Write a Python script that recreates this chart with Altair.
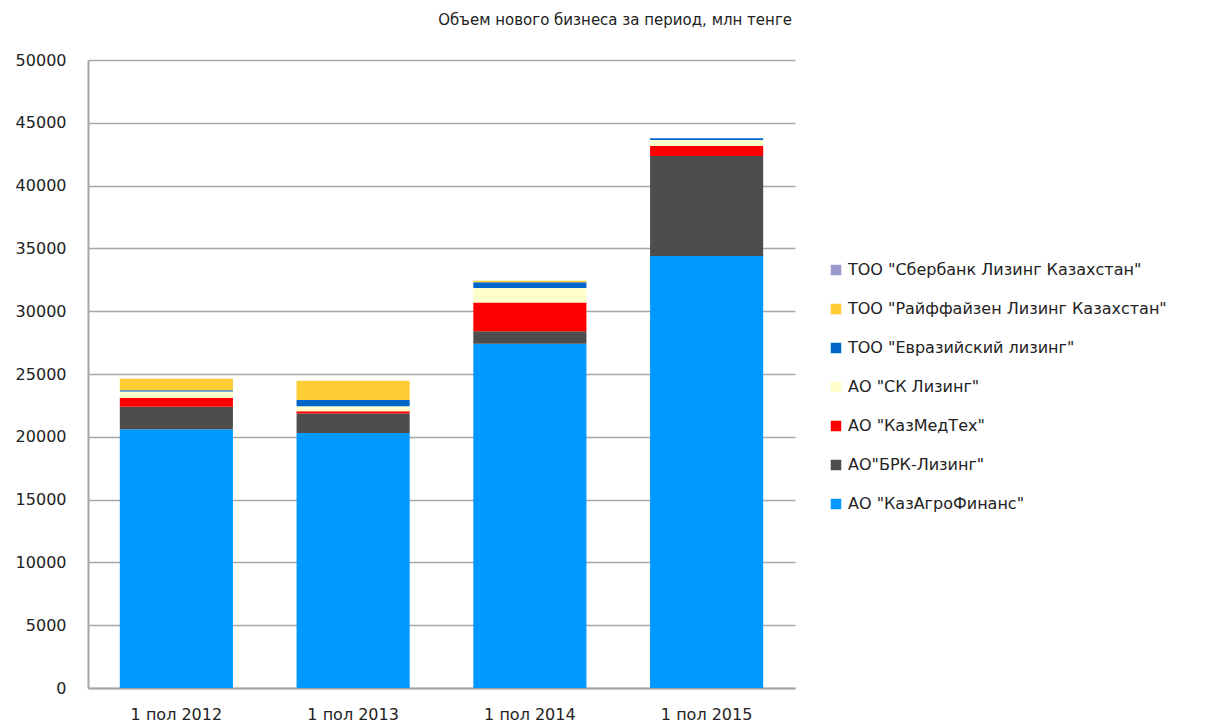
import altair as alt
import pandas as pd

periods = ["1 пол 2012", "1 пол 2013", "1 пол 2014", "1 пол 2015"]

# stack order bottom -> top
series = [
    "АО \"КазАгроФинанс\"",
    "АО\"БРК-Лизинг\"",
    "АО \"КазМедТех\"",
    "АО \"СК Лизинг\"",
    "ТОО \"Евразийский лизинг\"",
    "ТОО \"Райффайзен Лизинг Казахстан\"",
    "ТОО \"Сбербанк Лизинг Казахстан\"",
]
colors = ["#0099FF", "#4D4D4D", "#FF0000", "#FFFFCC", "#0066CC", "#FFCC33", "#9999CC"]

kazagro = [20600, 20300, 27400, 34400]
brk = [1800, 1550, 1000, 7950]
kazmedtech = [700, 190, 2300, 800]
sk = [500, 400, 1150, 480]
eurasian = [100, 480, 450, 130]
raiffeisen = [930, 1540, 130, 0]
sberbank = [0, 0, 0, 0]

values = [kazagro, brk, kazmedtech, sk, eurasian, raiffeisen, sberbank]

rows = []
for i, (name, vals) in enumerate(zip(series, values)):
    for p, v in zip(periods, vals):
        rows.append({"period": p, "company": name, "value": v, "ord": i})
df = pd.DataFrame(rows)

legend_order = list(reversed(series))
legend_colors = list(reversed(colors))

font = "DejaVu Sans"

chart = alt.Chart(df).mark_bar().encode(
    x=alt.X("period:N", sort=periods, title=None,
            scale=alt.Scale(paddingInner=0.36, paddingOuter=0.18),
            axis=alt.Axis(labelAngle=0, ticks=False, labelPadding=18, labelFontSize=16,
                          labelColor="#222222", labelFont=font, domainColor="#a6a6a6",
                          domainWidth=2)),
    y=alt.Y("value:Q", stack="zero", title=None,
            scale=alt.Scale(domain=[0, 50000]),
            axis=alt.Axis(values=list(range(0, 50001, 5000)), ticks=False, labelPadding=22,
                          labelFontSize=16, labelColor="#222222", labelFont=font,
                          domainColor="#a6a6a6", domainWidth=2, gridColor="#a6a6a6",
                          gridWidth=1.5, format="d")),
    color=alt.Color("company:N", sort=legend_order,
                    scale=alt.Scale(domain=legend_order, range=legend_colors),
                    legend=alt.Legend(title=None, orient="none", legendX=740, legendY=202,
                                      symbolType="square", symbolSize=110, symbolStrokeWidth=0,
                                      labelFontSize=16, labelFont=font, labelColor="#222222",
                                      rowPadding=23, labelLimit=400)),
    order=alt.Order("ord:Q", sort="ascending"),
).properties(
    width=707,
    height=628,
    title=alt.TitleParams("Объем нового бизнеса за период, млн тенге", anchor="end",
                          frame="group", fontSize=15, fontWeight="normal", font=font,
                          color="#222222", offset=24, dx=-3),
    autosize=alt.AutoSizeParams(type="none"),
    padding={"left": 80, "top": 52, "right": 400, "bottom": 36},
).configure_view(stroke=None)

chart.save("out.html", embed_options={"renderer": "svg", "actions": False})
